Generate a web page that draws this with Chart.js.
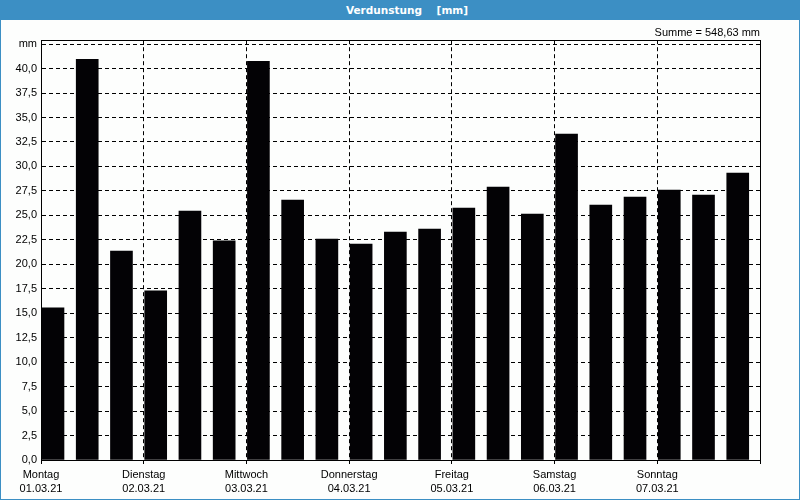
<!DOCTYPE html>
<html>
<head>
<meta charset="utf-8">
<script src="https://cdn.jsdelivr.net/npm/chart.js@4.4.0/dist/chart.umd.min.js"></script>
<style>
html,body{margin:0;padding:0;background:#fff;}
#frame{position:relative;width:800px;height:500px;box-sizing:border-box;border:1px solid #3c8fc4;border-top:none;background:#fdfefd;}
#head{height:20px;background:#3c8fc4;color:#fff;font:bold 10.5px 'DejaVu Sans',sans-serif;line-height:20px;text-align:center;white-space:pre;margin:0 -1px;padding-left:14px;}
#wrap{position:absolute;left:0;top:20px;width:798px;height:479px;}
</style>
</head>
<body>
<div id="frame">
  <div id="head">Verdunstung    [mm]</div>
  <div id="wrap"><canvas id="c" width="798" height="479"></canvas></div>
</div>
<script>
const dayNames = ['Montag','Dienstag','Mittwoch','Donnerstag','Freitag','Samstag','Sonntag'];
const dayDates = ['01.03.21','02.03.21','03.03.21','04.03.21','05.03.21','06.03.21','07.03.21'];
const evaporation = [15.56,40.95,21.36,17.28,25.44,22.4,40.74,26.56,22.58,22.07,23.3,23.6,25.74,27.89,25.13,33.3,26.05,26.87,27.58,27.07,29.32];
const barsPerDay = 3;
const unitLabel = 'mm';
const sumLabel = 'Summe = 548,63 mm';
const yStep = 2.5;
const yUnitTick = 42.5;
const yMax = 42.9;

const barData = evaporation.map((v, i) => ({x: i + 0.35, y: v}));
const labelFont = {family: "'Liberation Sans', Arial, sans-serif", size: 11, lineHeight: 1.27};

const frameBox = {
  id: 'frameBox',
  afterDatasetsDraw(chart) {
    const a = chart.chartArea, ctx = chart.ctx;
    ctx.save();
    ctx.strokeStyle = '#000';
    ctx.lineWidth = 1;
    ctx.setLineDash([]);
    ctx.strokeRect(Math.round(a.left) + 0.5, Math.round(a.top) + 0.5, Math.round(a.right - a.left), Math.round(a.bottom - a.top));
    ctx.restore();
  }
};

new Chart(document.getElementById('c'), {
  type: 'bar',
  data: {
    datasets: [{
      data: barData,
      backgroundColor: '#030205',
      borderWidth: 0,
      barThickness: 22
    }]
  },
  options: {
    responsive: false,
    animation: false,
    devicePixelRatio: 1,
    layout: {padding: {left: 0, right: 39, top: 0, bottom: 0}},
    plugins: {
      legend: {display: false},
      tooltip: {enabled: false},
      title: {
        display: true,
        text: sumLabel,
        align: 'end',
        color: '#000',
        font: {family: "'Liberation Sans', Arial, sans-serif", size: 11, weight: 'normal', lineHeight: 1.2},
        padding: {top: 6, bottom: 1}
      }
    },
    scales: {
      x: {
        type: 'linear',
        min: 0,
        max: evaporation.length,
        offset: false,
        ticks: {
          stepSize: barsPerDay,
          autoSkip: false,
          maxRotation: 0,
          color: '#000',
          font: labelFont,
          padding: 4,
          callback: (v) => {
            const d = Math.round(v / barsPerDay);
            return d < dayNames.length ? [dayNames[d], dayDates[d]] : '';
          }
        },
        grid: {offset: false, color: '#000', lineWidth: 1, drawTicks: true, tickLength: 4},
        border: {display: true, color: '#000', width: 1, dash: [4, 3]},
        afterFit: (s) => { s.height = 39; }
      },
      y: {
        min: 0,
        max: yMax,
        ticks: {
          stepSize: yStep,
          includeBounds: false,
          color: '#000',
          font: labelFont,
          padding: 4,
          callback: (v) => Math.abs(v - yUnitTick) < 1e-6 ? unitLabel : v.toFixed(1).replace('.', ',')
        },
        grid: {color: '#000', lineWidth: 1, drawTicks: false},
        border: {display: true, color: '#000', width: 1, dash: [4, 3]},
        afterFit: (s) => { s.width = 40; }
      }
    }
  },
  plugins: [frameBox]
});
</script>
</body>
</html>
